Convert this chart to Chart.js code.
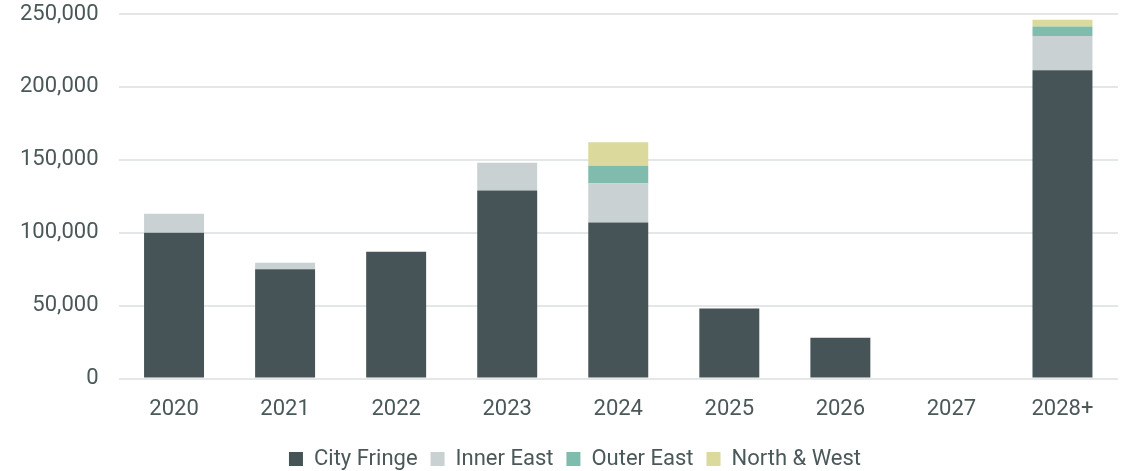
<!DOCTYPE html>
<html>
<head>
<meta charset="utf-8">
<script src="https://cdn.jsdelivr.net/npm/chart.js@4"></script>
<style>
  html, body { margin: 0; padding: 0; background: #fff; }
  #wrap { width: 1127px; height: 471px; }
</style>
</head>
<body>
<div id="wrap"><canvas id="chart" width="1127" height="471"></canvas></div>
<script>
const years = ['2020', '2021', '2022', '2023', '2024', '2025', '2026', '2027', '2028+'];
const cityFringe = [100000, 75000, 87000, 129000, 107000, 48000, 28000, 0, 211500];
const innerEast = [13000, 4500, 0, 19000, 27000, 0, 0, 0, 23500];
const outerEast = [0, 0, 0, 0, 12000, 0, 0, 0, 6500];
const northWest = [0, 0, 0, 0, 16000, 0, 0, 0, 4500];
const yTicks = [0, 50000, 100000, 150000, 200000, 250000];

const textColor = '#4b5859';
const font = { family: 'Roboto', size: 22 };

function series(label, data, color) {
    return {
        label: label,
        data: data,
        backgroundColor: color,
        borderWidth: 0,
        barPercentage: 0.54,
        categoryPercentage: 1.0
    };
}

// legend sits a little right of centre in the original
const nudgeLegend = {
    id: 'nudgeLegend',
    afterLayout(chart) {
        chart.legend.left += 16;
        chart.legend.right += 16;
    }
};

new Chart(document.getElementById('chart'), {
    type: 'bar',
    data: {
        labels: years,
        datasets: [
            series('City Fringe', cityFringe, '#465457'),
            series('Inner East', innerEast, '#c9d1d3'),
            series('Outer East', outerEast, '#80bcad'),
            series('North & West', northWest, '#dbd99c')
        ]
    },
    options: {
        responsive: false,
        animation: false,
        layout: { padding: { top: 14, right: 9, left: 0, bottom: -9 } },
        plugins: {
            tooltip: { enabled: false },
            legend: {
                position: 'bottom',
                labels: {
                    color: textColor,
                    font: font,
                    boxWidth: 14,
                    boxHeight: 14,
                    padding: 13
                }
            }
        },
        scales: {
            x: {
                stacked: true,
                afterFit: axis => { axis.height -= 6; },
                grid: { display: false, drawTicks: false },
                border: { display: false },
                ticks: { color: textColor, font: font, padding: 18 }
            },
            y: {
                stacked: true,
                min: 0,
                max: 250000,
                afterBuildTicks: axis => { axis.ticks = yTicks.map(v => ({ value: v })); },
                afterFit: axis => { axis.paddingTop = 0; axis.paddingBottom = 0; },
                grid: { color: '#e3e7e7', lineWidth: 2, drawTicks: false },
                border: { display: false },
                ticks: {
                    color: textColor,
                    font: font,
                    padding: 20,
                    callback: v => v.toLocaleString('en-US')
                }
            }
        }
    },
    plugins: [nudgeLegend]
});
</script>
</body>
</html>
